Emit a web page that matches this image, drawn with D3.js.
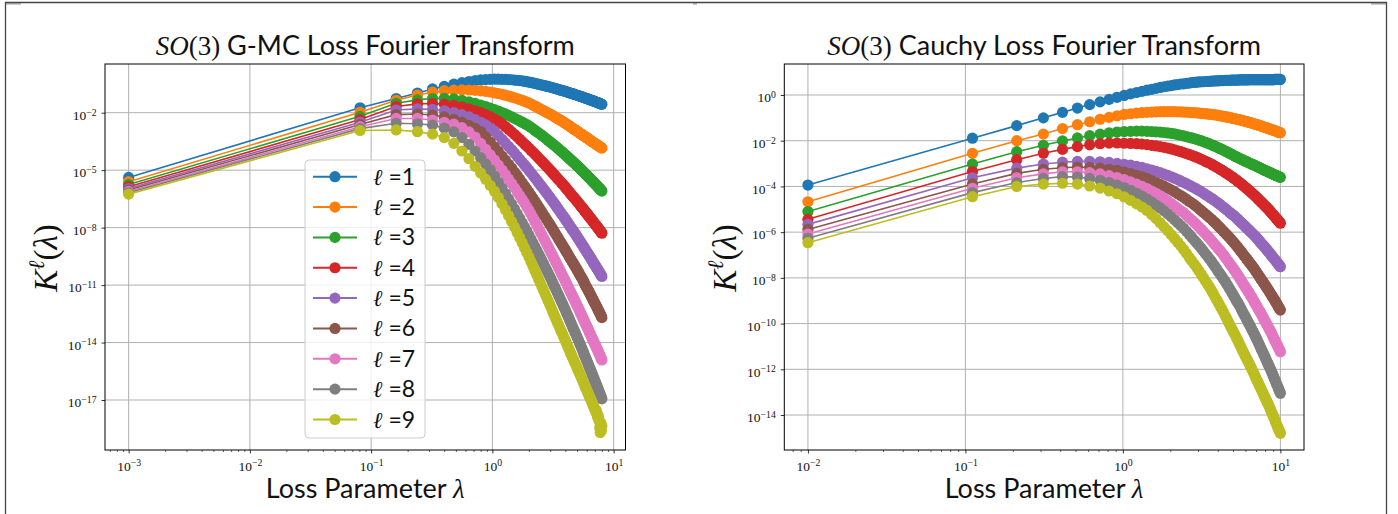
<!DOCTYPE html>
<html><head><meta charset="utf-8">
<script src="https://cdn.jsdelivr.net/npm/d3@7"></script>
<style>body{margin:0;background:#fff}</style>
</head><body>
<svg id="fig" width="1398" height="514" xmlns="http://www.w3.org/2000/svg"></svg>
<script>
// ---------------- DATA (series values are log10 of K^l(lambda)) ----------------
const gmcLambda = [0.001,
 0.081,0.161,0.241,0.321,0.401,0.481,0.561,0.641,0.721,0.801,0.881,0.961,1.041,
 1.121,1.201,1.281,1.361,1.441,1.521,1.601,1.681,1.761,1.841,1.921,2.001,2.081,2.161,2.241,2.321,2.401,2.481,2.561,2.641,2.721,2.801,2.881,2.961,
 3.041,3.121,3.201,3.281,3.361,3.441,3.521,3.601,3.681,3.761,3.841,3.921,4.001,4.081,4.161,4.241,4.321,4.401,4.481,4.561,4.641,4.721,4.801,4.881,4.961,
 5.041,5.121,5.201,5.281,5.361,5.441,5.521,5.601,5.681,5.761,5.841,5.921,6.001,6.081,6.161,6.241,6.321,6.401,6.481,6.561,6.641,6.721,6.801,6.881,6.961,
 7.041,7.121,7.201,7.281,7.361,7.441,7.521,7.601,7.681,7.761,7.841,7.921,8.001];
const gmcL1 = [-5.38,
 -1.74,-1.26,-0.97,-0.76,-0.63,-0.51,-0.43,-0.37,-0.32,-0.29,-0.27,-0.255,-0.25,
 -0.25,-0.255,-0.26,-0.27,-0.28,-0.295,-0.31,-0.325,-0.34,-0.36,-0.38,-0.4,-0.42,-0.445,-0.47,-0.49,-0.51,-0.535,-0.555,-0.575,-0.595,-0.615,-0.63,-0.65,
 -0.67,-0.69,-0.71,-0.73,-0.75,-0.77,-0.79,-0.81,-0.825,-0.84,-0.86,-0.875,-0.89,-0.91,-0.925,-0.94,-0.96,-0.975,-0.99,-1.005,-1.02,-1.035,-1.05,-1.065,-1.08,-1.095,-1.11,
 -1.12,-1.14,-1.15,-1.16,-1.18,-1.19,-1.205,-1.22,-1.235,-1.245,-1.26,-1.27,-1.28,-1.3,-1.31,-1.32,-1.34,-1.35,-1.36,-1.37,-1.385,-1.4,-1.41,-1.42,-1.43,-1.44,-1.455,
 -1.47,-1.48,-1.49,-1.5,-1.51,-1.525,-1.54,-1.55,-1.56];
const gmcL2 = [-5.6,
 -1.98,-1.35,-1.08,-0.93,-0.85,-0.82,-0.81,-0.815,-0.83,-0.855,-0.885,-0.92,-0.96,
 -1.0,-1.04,-1.085,-1.13,-1.175,-1.22,-1.265,-1.31,-1.355,-1.4,-1.445,-1.49,-1.545,-1.6,-1.65,-1.7,-1.75,-1.8,-1.845,-1.89,-1.935,-1.98,-2.02,-2.06,
 -2.1,-2.14,-2.18,-2.22,-2.26,-2.3,-2.34,-2.37,-2.41,-2.45,-2.48,-2.52,-2.55,-2.59,-2.62,-2.66,-2.69,-2.73,-2.76,-2.8,-2.83,-2.86,-2.89,-2.92,-2.95,-2.98,-3.01,
 -3.04,-3.07,-3.1,-3.13,-3.15,-3.18,-3.21,-3.23,-3.26,-3.28,-3.31,-3.33,-3.36,-3.38,-3.41,-3.43,-3.46,-3.48,-3.5,-3.53,-3.55,-3.57,-3.59,-3.61,-3.63,-3.65,-3.67,
 -3.69,-3.71,-3.73,-3.75,-3.77,-3.79,-3.81,-3.83,-3.85];
const gmcL3 = [-5.75,
 -2.19,-1.51,-1.33,-1.26,-1.25,-1.28,-1.35,-1.43,-1.51,-1.6,-1.68,-1.76,-1.84,
 -1.915,-1.99,-2.065,-2.14,-2.215,-2.29,-2.36,-2.43,-2.495,-2.56,-2.625,-2.69,-2.765,-2.84,-2.915,-2.99,-3.055,-3.12,-3.185,-3.25,-3.315,-3.38,-3.44,-3.5,
 -3.56,-3.61,-3.67,-3.73,-3.78,-3.84,-3.89,-3.95,-4.0,-4.05,-4.1,-4.15,-4.2,-4.25,-4.3,-4.35,-4.39,-4.44,-4.49,-4.53,-4.58,-4.62,-4.66,-4.7,-4.74,-4.79,-4.83,
 -4.87,-4.91,-4.95,-4.99,-5.03,-5.07,-5.11,-5.15,-5.19,-5.23,-5.26,-5.3,-5.34,-5.37,-5.41,-5.44,-5.48,-5.51,-5.55,-5.58,-5.62,-5.65,-5.69,-5.72,-5.75,-5.78,-5.81,
 -5.84,-5.88,-5.91,-5.94,-5.97,-6.0,-6.03,-6.06,-6.09];
const gmcL4 = [-5.87,
 -2.36,-1.68,-1.54,-1.52,-1.55,-1.62,-1.7,-1.8,-1.9,-2.0,-2.1,-2.21,-2.33,
 -2.45,-2.58,-2.72,-2.86,-3.0,-3.13,-3.26,-3.39,-3.51,-3.63,-3.74,-3.85,-3.96,-4.06,-4.16,-4.26,-4.36,-4.45,-4.54,-4.63,-4.72,-4.8,-4.88,-4.96,
 -5.04,-5.12,-5.2,-5.28,-5.35,-5.43,-5.5,-5.56,-5.63,-5.7,-5.76,-5.83,-5.89,-5.96,-6.02,-6.08,-6.15,-6.21,-6.27,-6.33,-6.39,-6.44,-6.5,-6.55,-6.6,-6.66,-6.71,
 -6.76,-6.82,-6.87,-6.92,-6.96,-7.01,-7.06,-7.12,-7.17,-7.21,-7.26,-7.3,-7.35,-7.39,-7.44,-7.48,-7.53,-7.57,-7.61,-7.66,-7.7,-7.74,-7.79,-7.83,-7.87,-7.9,-7.94,
 -7.98,-8.02,-8.06,-8.1,-8.14,-8.18,-8.22,-8.25,-8.29];
const gmcL5 = [-5.96,
 -2.5,-1.86,-1.8,-1.83,-1.9,-1.99,-2.1,-2.22,-2.36,-2.5,-2.64,-2.8,-2.97,
 -3.18,-3.39,-3.58,-3.76,-3.93,-4.1,-4.27,-4.43,-4.58,-4.72,-4.86,-5.0,-5.14,-5.27,-5.4,-5.52,-5.64,-5.76,-5.87,-5.98,-6.09,-6.19,-6.3,-6.4,
 -6.5,-6.59,-6.69,-6.78,-6.88,-6.97,-7.06,-7.15,-7.24,-7.32,-7.4,-7.48,-7.56,-7.64,-7.72,-7.8,-7.88,-7.96,-8.03,-8.1,-8.17,-8.24,-8.3,-8.37,-8.44,-8.51,-8.58,
 -8.64,-8.71,-8.77,-8.83,-8.9,-8.96,-9.02,-9.09,-9.15,-9.21,-9.26,-9.32,-9.38,-9.43,-9.49,-9.54,-9.6,-9.65,-9.71,-9.76,-9.82,-9.87,-9.92,-9.97,-10.02,-10.07,-10.12,
 -10.17,-10.22,-10.27,-10.32,-10.36,-10.41,-10.46,-10.5,-10.55];
const gmcL6 = [-6.04,
 -2.62,-2.1,-2.07,-2.12,-2.22,-2.35,-2.5,-2.66,-2.82,-2.98,-3.26,-3.53,-3.78,
 -4.02,-4.26,-4.48,-4.69,-4.89,-5.09,-5.28,-5.47,-5.65,-5.82,-5.99,-6.15,-6.31,-6.47,-6.62,-6.77,-6.91,-7.05,-7.19,-7.32,-7.45,-7.57,-7.69,-7.81,
 -7.93,-8.04,-8.16,-8.27,-8.38,-8.49,-8.59,-8.69,-8.79,-8.89,-8.98,-9.08,-9.17,-9.26,-9.35,-9.44,-9.53,-9.62,-9.7,-9.78,-9.86,-9.94,-10.01,-10.09,-10.17,-10.24,-10.32,
 -10.39,-10.47,-10.54,-10.61,-10.68,-10.75,-10.83,-10.92,-11.0,-11.07,-11.13,-11.2,-11.27,-11.33,-11.4,-11.47,-11.53,-11.6,-11.67,-11.73,-11.8,-11.86,-11.92,-11.98,-12.04,-12.1,-12.16,
 -12.22,-12.28,-12.34,-12.4,-12.46,-12.52,-12.58,-12.64,-12.7];
const gmcL7 = [-6.11,
 -2.73,-2.3,-2.3,-2.38,-2.5,-2.6,-2.78,-3.0,-3.28,-3.6,-3.91,-4.2,-4.47,
 -4.74,-4.99,-5.23,-5.47,-5.69,-5.91,-6.12,-6.33,-6.53,-6.72,-6.91,-7.09,-7.29,-7.49,-7.68,-7.86,-8.04,-8.21,-8.38,-8.54,-8.7,-8.85,-9.0,-9.15,
 -9.29,-9.43,-9.57,-9.7,-9.84,-9.97,-10.09,-10.22,-10.34,-10.46,-10.57,-10.69,-10.8,-10.91,-11.02,-11.13,-11.24,-11.35,-11.45,-11.55,-11.65,-11.74,-11.84,-11.93,-12.02,-12.12,-12.21,
 -12.3,-12.39,-12.48,-12.57,-12.65,-12.74,-12.83,-12.91,-13.0,-13.08,-13.15,-13.23,-13.31,-13.39,-13.47,-13.54,-13.62,-13.69,-13.76,-13.84,-13.91,-13.98,-14.05,-14.12,-14.19,-14.25,-14.32,
 -14.39,-14.45,-14.52,-14.59,-14.65,-14.72,-14.78,-14.85,-14.91];
const gmcL8 = [-6.18,
 -2.83,-2.55,-2.58,-2.65,-2.8,-3.0,-3.3,-3.65,-4.0,-4.35,-4.67,-4.98,-5.31,
 -5.63,-5.94,-6.22,-6.5,-6.76,-7.02,-7.27,-7.51,-7.74,-7.96,-8.18,-8.39,-8.6,-8.8,-8.99,-9.18,-9.36,-9.54,-9.71,-9.88,-10.05,-10.21,-10.37,-10.52,
 -10.67,-10.83,-10.98,-11.12,-11.27,-11.41,-11.54,-11.68,-11.81,-11.94,-12.06,-12.19,-12.31,-12.44,-12.56,-12.68,-12.8,-12.92,-13.03,-13.15,-13.26,-13.36,-13.47,-13.57,-13.67,-13.78,-13.88,
 -13.98,-14.08,-14.18,-14.28,-14.37,-14.47,-14.57,-14.67,-14.77,-14.86,-14.94,-15.03,-15.12,-15.21,-15.3,-15.38,-15.47,-15.55,-15.63,-15.72,-15.8,-15.88,-15.96,-16.04,-16.12,-16.19,-16.27,
 -16.35,-16.42,-16.5,-16.58,-16.65,-16.73,-16.8,-16.87,-16.94];
const gmcL9 = [-6.25,
 -2.93,-2.9,-2.99,-3.12,-3.3,-3.6,-4.0,-4.4,-4.8,-5.15,-5.48,-5.8,-6.1,
 -6.43,-6.76,-7.07,-7.38,-7.68,-7.97,-8.25,-8.53,-8.79,-9.05,-9.3,-9.54,-9.78,-10.02,-10.24,-10.46,-10.67,-10.88,-11.08,-11.27,-11.46,-11.64,-11.82,-11.99,
 -12.16,-12.33,-12.49,-12.65,-12.8,-12.96,-13.1,-13.24,-13.38,-13.51,-13.64,-13.77,-13.9,-14.02,-14.15,-14.27,-14.4,-14.52,-14.63,-14.75,-14.86,-14.96,-15.06,-15.16,-15.26,-15.37,-15.47,
 -15.57,-15.66,-15.76,-15.85,-15.95,-16.04,-16.13,-16.23,-16.32,-16.4,-16.49,-16.57,-16.65,-16.74,-16.82,-16.9,-16.97,-17.05,-17.13,-17.21,-17.29,-17.37,-17.44,-17.52,-17.62,-17.55,-17.75,
 -17.9,-17.8,-17.98,-18.1,-18.45,-18.7,-18.2,-18.6,-18.35];

const cauchyLambda = [0.01,0.1109,0.2118,0.3127,0.4136,0.5145,0.6155,0.7164,0.8173,0.9182,1.0191,
 1.12,1.2209,1.3218,1.4227,1.5236,1.6245,1.7255,1.8264,1.9273,2.0282,2.1291,2.23,2.3309,2.4318,2.5327,2.6336,2.7345,2.8355,2.9364,3.0373,
 3.1382,3.2391,3.34,3.4409,3.5418,3.6427,3.7436,3.8445,3.9455,4.0464,4.1473,4.2482,4.3491,4.45,4.5509,4.6518,4.7527,4.8536,4.9545,5.0555,5.1564,5.2573,5.3582,5.4591,
 5.56,5.6609,5.7618,5.8627,5.9636,6.0645,6.1655,6.2664,6.3673,6.4682,6.5691,6.67,6.7709,6.8718,6.9727,7.0736,7.1745,7.2755,7.3764,7.4773,7.5782,7.6791,7.78,7.8809,
 7.9818,8.0827,8.1836,8.2845,8.3855,8.4864,8.5873,8.6882,8.7891,8.89,8.9909,9.0918,9.1927,9.2936,9.3945,9.4955,9.5964,9.6973,9.7982,9.8991,10.0];
const cauchyL1 = [-3.94,-1.89,-1.34,-1.0,-0.76,-0.57,-0.42,-0.3,-0.19,-0.1,-0.02,
 0.05,0.11,0.16,0.21,0.25,0.29,0.33,0.36,0.39,0.41,0.44,0.46,0.48,0.49,0.51,0.52,0.54,0.55,0.56,0.57,
 0.58,0.58,0.59,0.6,0.6,0.61,0.61,0.62,0.62,0.62,0.63,0.63,0.63,0.64,0.64,0.64,0.64,0.65,0.65,0.65,0.65,0.65,0.65,0.66,
 0.66,0.66,0.66,0.66,0.66,0.66,0.66,0.66,0.67,0.67,0.67,0.67,0.67,0.67,0.67,0.67,0.67,0.67,0.67,0.67,0.67,0.67,0.67,0.67,
 0.67,0.67,0.67,0.67,0.67,0.67,0.67,0.67,0.67,0.67,0.67,0.67,0.68,0.68,0.68,0.68,0.68,0.68,0.68,0.68,0.68,0.68];
const cauchyL2 = [-4.67,-2.55,-2.0,-1.71,-1.47,-1.3,-1.17,-1.06,-0.98,-0.91,-0.85,
 -0.82,-0.79,-0.77,-0.76,-0.75,-0.74,-0.73,-0.73,-0.73,-0.73,-0.73,-0.735,-0.74,-0.745,-0.75,-0.76,-0.77,-0.775,-0.78,-0.79,
 -0.8,-0.81,-0.82,-0.83,-0.84,-0.85,-0.86,-0.87,-0.88,-0.89,-0.91,-0.92,-0.93,-0.95,-0.96,-0.97,-0.99,-1.0,-1.01,-1.03,-1.04,-1.05,-1.07,-1.08,
 -1.09,-1.11,-1.12,-1.13,-1.15,-1.16,-1.17,-1.19,-1.2,-1.21,-1.23,-1.24,-1.25,-1.27,-1.28,-1.29,-1.31,-1.32,-1.33,-1.35,-1.36,-1.37,-1.39,-1.4,
 -1.41,-1.43,-1.44,-1.45,-1.47,-1.48,-1.49,-1.5,-1.51,-1.52,-1.54,-1.55,-1.56,-1.57,-1.58,-1.59,-1.61,-1.62,-1.63,-1.64,-1.65];
const cauchyL3 = [-5.1,-3.02,-2.48,-2.2,-2.01,-1.88,-1.78,-1.71,-1.66,-1.62,-1.6,
 -1.59,-1.58,-1.58,-1.59,-1.6,-1.61,-1.62,-1.64,-1.66,-1.68,-1.7,-1.73,-1.76,-1.79,-1.82,-1.85,-1.88,-1.91,-1.94,-1.97,
 -2.0,-2.04,-2.07,-2.1,-2.14,-2.17,-2.21,-2.24,-2.28,-2.31,-2.35,-2.38,-2.41,-2.45,-2.48,-2.51,-2.55,-2.58,-2.61,-2.65,-2.68,-2.71,-2.73,-2.76,
 -2.79,-2.81,-2.84,-2.86,-2.89,-2.91,-2.93,-2.96,-2.98,-3.0,-3.02,-3.04,-3.06,-3.08,-3.1,-3.12,-3.14,-3.16,-3.18,-3.2,-3.22,-3.24,-3.26,-3.28,
 -3.3,-3.31,-3.33,-3.35,-3.36,-3.38,-3.4,-3.41,-3.43,-3.45,-3.46,-3.48,-3.49,-3.51,-3.52,-3.53,-3.55,-3.56,-3.57,-3.59,-3.6];
const cauchyL4 = [-5.44,-3.35,-2.83,-2.55,-2.38,-2.26,-2.18,-2.13,-2.105,-2.1,-2.11,
 -2.12,-2.13,-2.15,-2.17,-2.2,-2.23,-2.26,-2.29,-2.32,-2.36,-2.4,-2.44,-2.48,-2.52,-2.56,-2.6,-2.64,-2.68,-2.72,-2.76,
 -2.81,-2.85,-2.9,-2.94,-2.98,-3.02,-3.07,-3.11,-3.16,-3.2,-3.25,-3.29,-3.33,-3.38,-3.42,-3.46,-3.51,-3.55,-3.59,-3.64,-3.68,-3.72,-3.77,-3.81,
 -3.85,-3.9,-3.94,-3.98,-4.03,-4.07,-4.11,-4.15,-4.19,-4.23,-4.28,-4.32,-4.36,-4.4,-4.44,-4.48,-4.53,-4.57,-4.61,-4.65,-4.69,-4.73,-4.77,-4.81,
 -4.85,-4.88,-4.92,-4.96,-5.0,-5.04,-5.08,-5.12,-5.16,-5.2,-5.23,-5.27,-5.31,-5.35,-5.39,-5.43,-5.46,-5.5,-5.54,-5.57,-5.61];
const cauchyL5 = [-5.66,-3.62,-3.2,-3.02,-2.94,-2.905,-2.905,-2.92,-2.95,-2.99,-3.03,
 -3.07,-3.12,-3.17,-3.23,-3.28,-3.34,-3.4,-3.46,-3.52,-3.58,-3.64,-3.7,-3.76,-3.82,-3.88,-3.94,-4.0,-4.06,-4.11,-4.17,
 -4.23,-4.29,-4.35,-4.41,-4.46,-4.52,-4.57,-4.63,-4.68,-4.74,-4.79,-4.85,-4.91,-4.96,-5.02,-5.07,-5.13,-5.18,-5.23,-5.27,-5.32,-5.38,-5.43,-5.49,
 -5.54,-5.59,-5.64,-5.69,-5.74,-5.79,-5.84,-5.88,-5.93,-5.98,-6.02,-6.07,-6.11,-6.16,-6.2,-6.25,-6.3,-6.35,-6.4,-6.45,-6.5,-6.54,-6.58,-6.62,
 -6.67,-6.71,-6.76,-6.8,-6.85,-6.89,-6.93,-6.98,-7.02,-7.06,-7.11,-7.15,-7.19,-7.23,-7.27,-7.31,-7.36,-7.4,-7.44,-7.47,-7.51];
const cauchyL6 = [-5.88,-3.89,-3.43,-3.25,-3.18,-3.15,-3.17,-3.2,-3.25,-3.3,-3.37,
 -3.44,-3.51,-3.58,-3.66,-3.74,-3.83,-3.91,-3.99,-4.07,-4.15,-4.23,-4.32,-4.4,-4.48,-4.56,-4.65,-4.72,-4.8,-4.88,-4.97,
 -5.05,-5.13,-5.21,-5.28,-5.36,-5.43,-5.51,-5.58,-5.66,-5.74,-5.81,-5.89,-5.96,-6.03,-6.1,-6.17,-6.24,-6.31,-6.38,-6.45,-6.52,-6.59,-6.66,-6.73,
 -6.8,-6.87,-6.94,-7.01,-7.07,-7.14,-7.2,-7.27,-7.33,-7.39,-7.45,-7.51,-7.57,-7.64,-7.7,-7.76,-7.83,-7.89,-7.95,-8.02,-8.08,-8.14,-8.19,-8.25,
 -8.31,-8.36,-8.42,-8.48,-8.53,-8.59,-8.65,-8.7,-8.76,-8.81,-8.87,-8.92,-8.97,-9.03,-9.08,-9.14,-9.2,-9.26,-9.31,-9.36,-9.41];
const cauchyL7 = [-6.08,-4.08,-3.62,-3.45,-3.36,-3.36,-3.4,-3.45,-3.53,-3.61,-3.7,
 -3.8,-3.9,-4.0,-4.09,-4.2,-4.3,-4.41,-4.52,-4.63,-4.74,-4.85,-4.96,-5.06,-5.15,-5.26,-5.37,-5.47,-5.57,-5.67,-5.77,
 -5.87,-5.97,-6.07,-6.17,-6.26,-6.36,-6.45,-6.55,-6.64,-6.73,-6.81,-6.9,-6.99,-7.09,-7.18,-7.27,-7.36,-7.45,-7.53,-7.62,-7.7,-7.79,-7.87,-7.96,
 -8.05,-8.13,-8.22,-8.3,-8.38,-8.46,-8.54,-8.61,-8.69,-8.77,-8.84,-8.92,-9.0,-9.08,-9.16,-9.23,-9.31,-9.38,-9.45,-9.52,-9.59,-9.67,-9.74,-9.82,
 -9.89,-9.95,-10.02,-10.09,-10.16,-10.23,-10.29,-10.36,-10.42,-10.5,-10.57,-10.65,-10.71,-10.78,-10.84,-10.91,-10.97,-11.04,-11.1,-11.17,-11.23];
const cauchyL8 = [-6.27,-4.27,-3.83,-3.65,-3.57,-3.59,-3.65,-3.73,-3.83,-3.94,-4.05,
 -4.17,-4.3,-4.42,-4.55,-4.68,-4.82,-4.94,-5.07,-5.2,-5.33,-5.46,-5.59,-5.71,-5.83,-5.96,-6.09,-6.22,-6.35,-6.46,-6.58,
 -6.7,-6.82,-6.94,-7.05,-7.16,-7.27,-7.39,-7.5,-7.62,-7.73,-7.83,-7.94,-8.05,-8.15,-8.26,-8.36,-8.47,-8.57,-8.68,-8.78,-8.89,-8.99,-9.08,-9.18,
 -9.28,-9.39,-9.49,-9.59,-9.68,-9.78,-9.87,-9.96,-10.05,-10.14,-10.23,-10.32,-10.41,-10.5,-10.59,-10.68,-10.77,-10.86,-10.95,-11.04,-11.13,-11.21,-11.3,-11.38,
 -11.46,-11.55,-11.63,-11.71,-11.79,-11.87,-11.95,-12.02,-12.1,-12.18,-12.27,-12.35,-12.43,-12.51,-12.59,-12.67,-12.74,-12.82,-12.9,-12.97,-13.05];
const cauchyL9 = [-6.46,-4.45,-4.0,-3.9,-3.86,-3.9,-3.98,-4.07,-4.2,-4.32,-4.46,
 -4.61,-4.76,-4.9,-5.05,-5.23,-5.41,-5.59,-5.77,-5.94,-6.11,-6.28,-6.44,-6.6,-6.76,-6.93,-7.1,-7.25,-7.39,-7.54,-7.69,
 -7.84,-7.98,-8.13,-8.27,-8.4,-8.54,-8.68,-8.83,-8.97,-9.1,-9.24,-9.37,-9.5,-9.64,-9.77,-9.9,-10.03,-10.16,-10.27,-10.39,-10.5,-10.62,-10.73,-10.85,
 -10.96,-11.08,-11.19,-11.29,-11.4,-11.5,-11.59,-11.69,-11.78,-11.88,-11.97,-12.07,-12.17,-12.26,-12.36,-12.45,-12.54,-12.63,-12.72,-12.8,-12.89,-12.98,-13.06,-13.15,
 -13.23,-13.31,-13.39,-13.47,-13.54,-13.62,-13.7,-13.79,-13.87,-13.95,-14.03,-14.11,-14.19,-14.28,-14.36,-14.44,-14.51,-14.59,-14.66,-14.73,-14.8];

const ellLabels = ["1","2","3","4","5","6","7","8","9"];
const gmcXTicks = [1e-3,1e-2,1e-1,1,10];
const gmcYTicks = [1e-2,1e-5,1e-8,1e-11,1e-14,1e-17];
const cauchyXTicks = [1e-2,1e-1,1,10];
const cauchyYTicks = [1,1e-2,1e-4,1e-6,1e-8,1e-10,1e-12,1e-14];
const colors = ["#1f77b4","#ff7f0e","#2ca02c","#d62728","#9467bd","#8c564b","#e377c2","#7f7f7f","#bcbd22"];

// ---------------- DRAWING ----------------
const SANS = "Lato, 'Open Sans', sans-serif";
const SERIF = "'Liberation Serif', 'DejaVu Serif', serif";
const svg = d3.select("#fig");

// figure border
svg.append("line").attr("x1",5).attr("x2",1387).attr("y1",2.5).attr("y2",2.5).attr("stroke","#444").attr("stroke-width",1.3);
svg.append("line").attr("x1",5.5).attr("x2",5.5).attr("y1",2).attr("y2",514).attr("stroke","#444").attr("stroke-width",1.3);
svg.append("line").attr("x1",1386.5).attr("x2",1386.5).attr("y1",2).attr("y2",514).attr("stroke","#444").attr("stroke-width",1.3);
[[6,21],[693,697],[1371,1386]].forEach(([a,b])=>svg.append("line").attr("x1",a).attr("x2",b).attr("y1",3.8).attr("y2",3.8).attr("stroke","#999").attr("stroke-width",1.4));

function powLabel(sel){
  sel.each(function(d){
    const e = Math.round(Math.log10(d));
    const t = d3.select(this); t.text(null);
    t.append("tspan").text("10");
    t.append("tspan").attr("dy","-0.45em").attr("font-size","0.72em").text(e<0?"\u2212"+(-e):String(e));
  });
}
function minorTicks(domain){
  const out=[]; const lo=Math.floor(Math.log10(domain[0])), hi=Math.ceil(Math.log10(domain[1]));
  for(let k=lo;k<=hi;k++) for(let m=2;m<=9;m++){const v=m*Math.pow(10,k); if(v>=domain[0]&&v<=domain[1]) out.push(v);}
  return out;
}

function panel(cfg){
  const g = svg.append("g");
  const x = d3.scaleLog().domain(cfg.xDomain).range([cfg.left,cfg.right]);
  const y = d3.scaleLog().domain(cfg.yDomain).range([cfg.bottom,cfg.top]);
  const cid = "clip"+cfg.id;
  svg.append("defs").append("clipPath").attr("id",cid).append("rect")
    .attr("x",cfg.left).attr("y",cfg.top).attr("width",cfg.right-cfg.left).attr("height",cfg.bottom-cfg.top);
  g.append("g").selectAll("line").data(cfg.xTicks).join("line")
    .attr("x1",d=>x(d)).attr("x2",d=>x(d)).attr("y1",cfg.top).attr("y2",cfg.bottom)
    .attr("stroke","#b0b0b0").attr("stroke-width",1);
  g.append("g").selectAll("line").data(cfg.yTicks).join("line")
    .attr("y1",d=>y(d)).attr("y2",d=>y(d)).attr("x1",cfg.left).attr("x2",cfg.right)
    .attr("stroke","#b0b0b0").attr("stroke-width",1);
  const line = d3.line().x(d=>x(d[0])).y(d=>y(d[1]));
  const sg = g.append("g").attr("clip-path",`url(#${cid})`);
  cfg.series.forEach((vals,i)=>{
    const n = Math.min(vals.length, cfg.lambda.length);
    const pts = cfg.lambda.slice(0,n).map((l,j)=>[l, Math.pow(10, vals[j])]);
    sg.append("path").attr("d",line(pts)).attr("fill","none").attr("stroke",colors[i]).attr("stroke-width",1.6);
    sg.append("g").selectAll("circle").data(pts).join("circle")
      .attr("cx",d=>x(d[0])).attr("cy",d=>y(d[1])).attr("r",5.6).attr("fill",colors[i]);
  });
  const gx = g.append("g").attr("transform",`translate(0,${cfg.bottom})`)
    .call(d3.axisBottom(x).tickValues(cfg.xTicks).tickSize(3.5).tickPadding(3).tickFormat(d=>d));
  gx.select(".domain").remove();
  gx.selectAll(".tick line").attr("stroke","#000").attr("stroke-width",0.8);
  gx.selectAll("text").attr("font-family",SERIF).attr("font-size",13.5).attr("fill","#111").attr("dy","1.05em").call(powLabel);
  const gxm = g.append("g").attr("transform",`translate(0,${cfg.bottom})`)
    .call(d3.axisBottom(x).tickValues(minorTicks(cfg.xDomain)).tickSize(2).tickFormat(""));
  gxm.select(".domain").remove();
  gxm.selectAll(".tick line").attr("stroke","#000").attr("stroke-width",0.6);
  const gy = g.append("g").attr("transform",`translate(${cfg.left},0)`)
    .call(d3.axisLeft(y).tickValues(cfg.yTicks).tickSize(3.5).tickPadding(5).tickFormat(d=>d));
  gy.select(".domain").remove();
  gy.selectAll(".tick line").attr("stroke","#000").attr("stroke-width",0.8);
  gy.selectAll("text").attr("font-family",SERIF).attr("font-size",13.5).attr("fill","#111").attr("dy","0.5em").call(powLabel);
  g.append("rect").attr("x",cfg.left).attr("y",cfg.top).attr("width",cfg.right-cfg.left).attr("height",cfg.bottom-cfg.top)
    .attr("fill","none").attr("stroke","#000").attr("stroke-width",1);
  const cx = (cfg.left+cfg.right)/2;
  const tt = g.append("text").attr("x",cx).attr("y",55).attr("text-anchor","middle").attr("font-size",27).attr("fill","#111");
  tt.append("tspan").attr("font-family",SERIF).attr("font-style","italic").text("SO");
  tt.append("tspan").attr("font-family",SERIF).text("(3)");
  tt.append("tspan").attr("font-family",SANS).text(" "+cfg.title);
  const xl = g.append("text").attr("x",cx).attr("y",498).attr("text-anchor","middle").attr("font-size",27).attr("fill","#111");
  xl.append("tspan").attr("font-family",SANS).text("Loss Parameter ");
  xl.append("tspan").attr("font-family",SERIF).attr("font-style","italic").text("\u03bb");
  const yl = g.append("text").attr("transform",`translate(${cfg.ylabX},258) rotate(-90)`).attr("text-anchor","middle")
    .attr("font-family",SERIF).attr("font-size",33).attr("fill","#111");
  yl.append("tspan").attr("font-style","italic").text("K");
  yl.append("tspan").attr("font-style","italic").attr("font-size",22).attr("dy",-13).text("\u2113");
  yl.append("tspan").attr("dy",13).text("(");
  yl.append("tspan").attr("font-style","italic").text("\u03bb");
  yl.append("tspan").text(")");
  return {x,y,g};
}

const left = panel({id:"L", left:105, right:625.5, top:64, bottom:450,
  xDomain:[Math.pow(10,-3.195), Math.pow(10,1.098)], yDomain:[Math.pow(10,-19.61), Math.pow(10,0.543)],
  xTicks:gmcXTicks, yTicks:gmcYTicks, lambda:gmcLambda,
  series:[gmcL1,gmcL2,gmcL3,gmcL4,gmcL5,gmcL6,gmcL7,gmcL8,gmcL9],
  title:"G-MC Loss Fourier Transform", ylabX:57});

const right = panel({id:"R", left:784.3, right:1304, top:64, bottom:450,
  xDomain:[Math.pow(10,-2.15), Math.pow(10,1.15)], yDomain:[Math.pow(10,-15.53), Math.pow(10,1.356)],
  xTicks:cauchyXTicks, yTicks:cauchyYTicks, lambda:cauchyLambda,
  series:[cauchyL1,cauchyL2,cauchyL3,cauchyL4,cauchyL5,cauchyL6,cauchyL7,cauchyL8,cauchyL9],
  title:"Cauchy Loss Fourier Transform", ylabX:736});

const lg = left.g.append("g");
lg.append("rect").attr("x",305).attr("y",160).attr("width",120).attr("height",278).attr("rx",4)
  .attr("fill","#fff").attr("fill-opacity",0.8).attr("stroke","#cccccc").attr("stroke-width",1);
ellLabels.forEach((lab,i)=>{
  const yy = 176.7 + i*30.35;
  lg.append("line").attr("x1",313).attr("x2",357).attr("y1",yy).attr("y2",yy).attr("stroke",colors[i]).attr("stroke-width",2);
  lg.append("circle").attr("cx",335).attr("cy",yy).attr("r",5.6).attr("fill",colors[i]);
  const t = lg.append("text").attr("x",373).attr("y",yy+8).attr("font-size",23).attr("fill","#111");
  t.append("tspan").attr("font-family",SERIF).attr("font-style","italic").text("\u2113");
  t.append("tspan").attr("font-family",SANS).text(" ="+lab);
});
</script>
</body></html>
